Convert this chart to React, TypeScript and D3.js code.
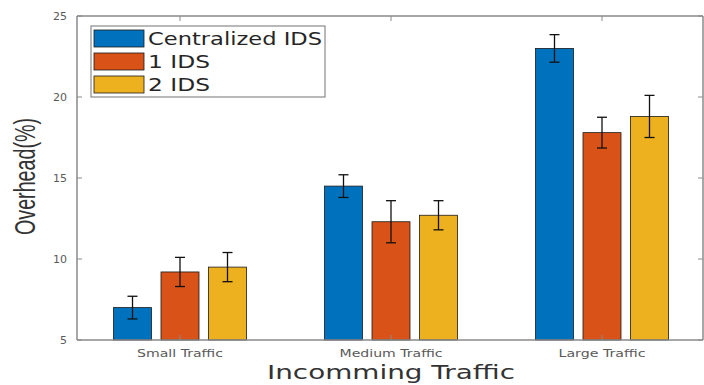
import React from "react";
import * as d3 from "d3";

const categories = ["Small Traffic", "Medium Traffic", "Large Traffic"];
const categoryLabelWidths = [86, 103, 87];
const seriesNames = ["Centralized IDS", "1 IDS", "2 IDS"];
const seriesLabelWidths = [174, 62, 62];
const seriesColors = ["#0072BD", "#D95319", "#EDB120"];
const centralized = [7.0, 14.5, 23.0];
const oneIds = [9.2, 12.3, 17.8];
const twoIds = [9.5, 12.7, 18.8];
const centralizedErr = [0.7, 0.7, 0.85];
const oneIdsErr = [0.9, 1.3, 0.95];
const twoIdsErr = [0.9, 0.9, 1.3];
const yTicks = [5, 10, 15, 20, 25];

const W = 704;
const H = 385;
const left = 77;
const right = 703;
const top = 16;
const bottom = 340;

export default function App() {
  const xc = d3.scaleLinear().domain([0, 2]).range([180, 602]);
  const y = d3.scaleLinear().domain([5, 25]).range([bottom, top]);
  const series = [centralized, oneIds, twoIds];
  const errs = [centralizedErr, oneIdsErr, twoIdsErr];
  const barW = 38;
  const offset = d3.scaleLinear().domain([0, 2]).range([-47.5, 47.5]);
  const axisColor = "#8a8a8a";
  const tickColor = "#5a5a5a";

  return (
    <svg width={W} height={H} style={{ position: "absolute", left: 0, top: 0, background: "#fff" }}>
      {/* bars */}
      {series.map((vals, s) =>
        vals.map((v, i) => {
          const cx = xc(i) + offset(s);
          return (
            <rect
              key={`b${s}-${i}`}
              x={cx - barW / 2}
              y={y(v)}
              width={barW}
              height={y(5) - y(v)}
              fill={seriesColors[s]}
              stroke="#1a1a1a"
              strokeWidth={0.8}
            />
          );
        })
      )}
      {/* error bars */}
      {series.map((vals, s) =>
        vals.map((v, i) => {
          const cx = xc(i) + offset(s);
          const e = errs[s][i];
          return (
            <g key={`e${s}-${i}`} stroke="#111" strokeWidth={1.3}>
              <line x1={cx} x2={cx} y1={y(v + e)} y2={y(v - e)} />
              <line x1={cx - 5} x2={cx + 5} y1={y(v + e)} y2={y(v + e)} />
              <line x1={cx - 5} x2={cx + 5} y1={y(v - e)} y2={y(v - e)} />
            </g>
          );
        })
      )}
      {/* axes box */}
      <g stroke={axisColor} strokeWidth={1.5} fill="none">
        <line x1={left} x2={left} y1={top} y2={bottom} />
        <line x1={left} x2={right} y1={bottom} y2={bottom} />
        <line x1={left} x2={right} y1={top} y2={top} />
        <line x1={right} x2={right} y1={top} y2={bottom} />
      </g>
      {/* ticks */}
      <g stroke={axisColor} strokeWidth={1}>
        {yTicks.map((t) => (
          <g key={`yt${t}`}>
            <line x1={left} x2={left + 5} y1={y(t)} y2={y(t)} />
            <line x1={right} x2={right - 5} y1={y(t)} y2={y(t)} />
          </g>
        ))}
        {categories.map((c, i) => (
          <g key={`xt${c}`}>
            <line x1={xc(i)} x2={xc(i)} y1={top} y2={top + 5} />
            <line x1={xc(i)} x2={xc(i)} y1={bottom} y2={bottom - 5} />
          </g>
        ))}
      </g>
      {/* y tick labels */}
      {yTicks.map((t) => (
        <text
          key={`yl${t}`}
          x={left - 10}
          y={y(t) + 4}
          textAnchor="end"
          fontFamily="DejaVu Sans"
          fontSize={11}
          fill={tickColor}
        >
          {t}
        </text>
      ))}
      {/* x tick labels */}
      {categories.map((c, i) => (
        <text
          key={`xl${c}`}
          x={xc(i)}
          y={357}
          textAnchor="middle"
          fontFamily="DejaVu Sans"
          fontSize={11}
          fill={tickColor}
          textLength={categoryLabelWidths[i]}
          lengthAdjust="spacingAndGlyphs"
        >
          {c}
        </text>
      ))}
      {/* axis titles */}
      <text
        x={391}
        y={379}
        textAnchor="middle"
        fontFamily="DejaVu Sans"
        fontSize={20}
        fill="#333"
        textLength={248}
        lengthAdjust="spacingAndGlyphs"
      >
        Incomming Traffic
      </text>
      <text
        transform="translate(35,176.5) rotate(-90)"
        textAnchor="middle"
        fontFamily="Liberation Sans"
        fontSize={30}
        fill="#333"
        textLength={117}
        lengthAdjust="spacingAndGlyphs"
      >
        Overhead(%)
      </text>
      {/* legend */}
      <g>
        <rect x={91} y={26} width={234} height={71} fill="#fff" stroke={axisColor} strokeWidth={1.2} />
        {seriesNames.map((n, s) => (
          <g key={`lg${n}`}>
            <rect
              x={94}
              y={30 + s * 23}
              width={50}
              height={17}
              fill={seriesColors[s]}
              stroke="#1a1a1a"
              strokeWidth={0.8}
            />
            <text
              x={148}
              y={45 + s * 23}
              fontFamily="DejaVu Sans"
              fontSize={17}
              fill="#262626"
              textLength={seriesLabelWidths[s]}
              lengthAdjust="spacingAndGlyphs"
            >
              {n}
            </text>
          </g>
        ))}
      </g>
    </svg>
  );
}
